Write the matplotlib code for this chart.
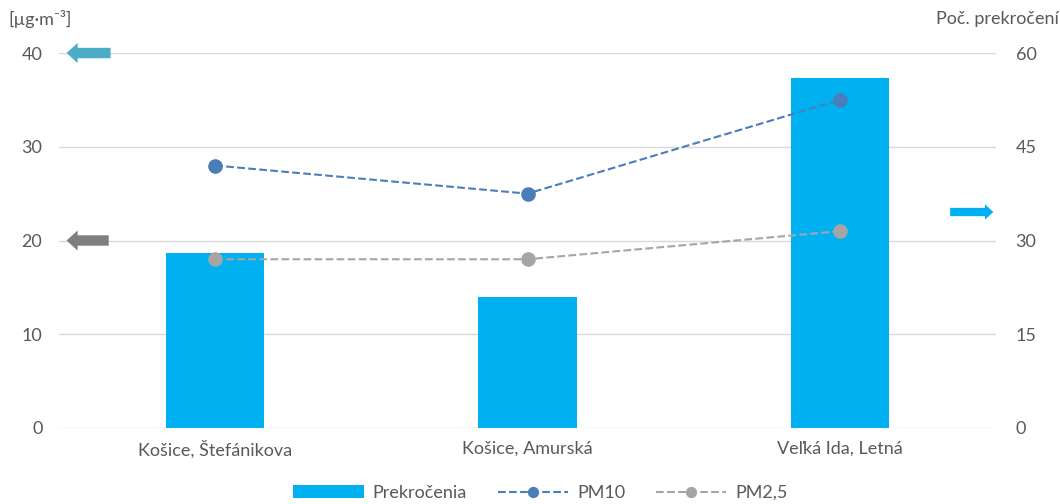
import matplotlib.pyplot as plt
import numpy as np

# data
stations = ['Košice, Štefánikova', 'Košice, Amurská', 'Veľká Ida, Letná']
prekrocenia = [28, 21, 56]
pm10 = [28, 25, 35]
pm25 = [18, 18, 21]

left_ticks = [0, 10, 20, 30, 40]
right_ticks = [0, 15, 30, 45, 60]

plt.rcParams['font.family'] = ['Lato', 'DejaVu Sans']
txt = '#595959'
grid = '#d9d9d9'
fs = 13

fig = plt.figure(figsize=(10.6, 5.04), dpi=100)
ax = fig.add_axes([0.0557, 0.1508, 0.884, 0.744])
ax2 = ax.twinx()

x = np.arange(len(stations))

# bars on the right scale
bars = ax.bar(x, prekrocenia, width=0.315, color='#00B0F0', label='Prekročenia', zorder=2)
ax.set_ylim(0, 60)
ax.set_yticks(right_ticks)
ax.yaxis.tick_right()
ax.set_axisbelow(True)
ax.grid(axis='y', color=grid, lw=1, zorder=0)

# lines on the left scale
l1, = ax2.plot(x, pm10, ls='--', color='#4A7EBB', marker='o', ms=9.5, lw=1.5, label='PM10')
l2, = ax2.plot(x, pm25, ls='--', color='#A5A5A5', marker='o', ms=9.5, lw=1.5, label='PM2,5')
ax2.set_ylim(0, 40)
ax2.set_yticks(left_ticks)
ax2.yaxis.tick_left()

ax.set_xlim(-0.5, len(stations) - 0.5)
ax.set_xticks(x)
ax.set_xticklabels(stations)

for a in (ax, ax2):
    for s in a.spines.values():
        s.set_visible(False)
    a.tick_params(length=0, labelsize=fs, colors=txt)
ax.tick_params(axis='x', pad=9)
ax.tick_params(axis='y', pad=14)
ax2.tick_params(axis='y', pad=12)

# axis arrows
big = 'simple,head_width=1.45,head_length=0.8,tail_width=0.75'
small = 'simple,head_width=1.1,head_length=0.6,tail_width=0.6'
ax2.annotate('', xy=(0.008, 40), xytext=(0.055, 40), xycoords=('axes fraction', 'data'),
             arrowprops=dict(arrowstyle=big, color='#4BACC6', lw=0, shrinkA=0, shrinkB=0),
             annotation_clip=False)
ax2.annotate('', xy=(0.008, 20), xytext=(0.053, 20), xycoords=('axes fraction', 'data'),
             arrowprops=dict(arrowstyle=big, color='#7F7F7F', lw=0, shrinkA=0, shrinkB=0),
             annotation_clip=False)
ax2.annotate('', xy=(0.997, 0.576), xytext=(0.951, 0.576), xycoords='axes fraction',
             arrowprops=dict(arrowstyle=small, color='#00B0F0', lw=0, shrinkA=0, shrinkB=0),
             annotation_clip=False)

fig.text(0.008, 0.963, '[µg·m⁻³]', color=txt, fontsize=fs, va='center', ha='left')
fig.text(0.999, 0.963, 'Poč. prekročení', color=txt, fontsize=fs, va='center', ha='right')

fig.legend(handles=[bars, l1, l2], loc='center', bbox_to_anchor=(0.51, 0.022), ncol=3,
           frameon=False, fontsize=fs, labelcolor=txt, handlelength=3.9, markerscale=0.75,
           columnspacing=1.7, handletextpad=0.5)

fig.savefig('out.png', dpi=100)
